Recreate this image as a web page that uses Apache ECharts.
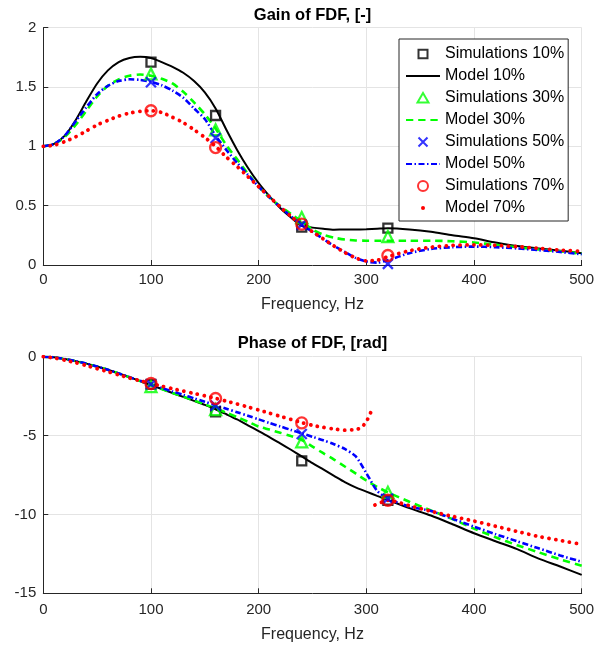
<!DOCTYPE html>
<html>
<head>
<meta charset="utf-8">
<script src="https://cdn.jsdelivr.net/npm/echarts@6/dist/echarts.min.js"></script>
<style>
html,body{margin:0;padding:0;background:#fff;}
#chart{width:603px;height:648px;}
</style>
</head>
<body>
<div id="chart"></div>
<script>
// ---------------- DATA ----------------
const freqModel = [0,10,20,30,40,50,60,70,80,90,100,110,120,130,140,150,160,170,180,190,200,210,220,230,240,250,260,270,280,290,300,310,320,340,360,380,400,420,440,460,480,500];

const gainModel10 = [1.00,1.02,1.09,1.22,1.38,1.53,1.64,1.71,1.745,1.755,1.745,1.71,1.67,1.62,1.55,1.455,1.32,1.14,0.97,0.82,0.69,0.58,0.48,0.40,0.33,0.315,0.305,0.298,0.30,0.30,0.302,0.306,0.31,0.30,0.28,0.25,0.225,0.19,0.16,0.14,0.12,0.10];
const gainModel30 = [1.00,1.02,1.08,1.18,1.30,1.42,1.51,1.565,1.595,1.605,1.595,1.57,1.53,1.46,1.37,1.27,1.15,1.01,0.89,0.77,0.66,0.57,0.495,0.43,0.365,0.30,0.255,0.23,0.215,0.207,0.205,0.205,0.205,0.205,0.205,0.20,0.19,0.17,0.15,0.13,0.115,0.095];
const gainModel50 = [1.00,1.02,1.09,1.21,1.33,1.44,1.51,1.55,1.565,1.56,1.545,1.515,1.47,1.41,1.32,1.23,1.09,0.97,0.86,0.76,0.66,0.57,0.49,0.41,0.34,0.28,0.22,0.16,0.11,0.06,0.03,0.02,0.04,0.10,0.135,0.15,0.155,0.15,0.14,0.125,0.11,0.09];
const gainModel70 = [1.00,1.01,1.04,1.08,1.13,1.18,1.22,1.255,1.28,1.295,1.30,1.285,1.245,1.20,1.14,1.075,1.00,0.91,0.83,0.745,0.66,0.575,0.49,0.41,0.34,0.28,0.22,0.16,0.105,0.06,0.035,0.04,0.07,0.12,0.15,0.165,0.17,0.165,0.155,0.14,0.125,0.115];

const phaseModel10 = [0,-0.04,-0.15,-0.28,-0.44,-0.62,-0.83,-1.06,-1.3,-1.55,-1.8,-2.05,-2.3,-2.55,-2.8,-3.05,-3.33,-3.65,-3.98,-4.35,-4.72,-5.1,-5.5,-5.9,-6.32,-6.75,-7.15,-7.55,-7.95,-8.28,-8.55,-8.82,-9.08,-9.6,-10.07,-10.62,-11.19,-11.7,-12.2,-12.8,-13.3,-13.83];
const phaseModel30 = [0,-0.04,-0.15,-0.28,-0.44,-0.62,-0.83,-1.06,-1.3,-1.55,-1.82,-2.05,-2.3,-2.53,-2.77,-3.02,-3.28,-3.55,-3.83,-4.12,-4.43,-4.62,-4.82,-5.03,-5.28,-5.7,-6.12,-6.52,-6.96,-7.4,-7.85,-8.25,-8.6,-9.2,-9.75,-10.3,-10.9,-11.45,-11.95,-12.4,-12.85,-13.25];
const phaseModel50 = [0,-0.04,-0.15,-0.28,-0.44,-0.62,-0.83,-1.06,-1.3,-1.53,-1.76,-1.98,-2.2,-2.42,-2.64,-2.86,-3.08,-3.3,-3.52,-3.74,-3.97,-4.2,-4.42,-4.64,-4.86,-5.08,-5.3,-5.55,-5.85,-6.31,-7.38,-8.5,-9.0,-9.5,-9.78,-10.27,-10.77,-11.25,-11.7,-12.15,-12.6,-13.0];

// 70% phase has a wrap (break) just after 305 Hz
const freqPhase70 = [0,10,20,30,40,50,60,70,80,90,100,110,120,130,140,150,160,170,180,190,200,210,220,230,240,250,260,270,280,290,295,300,305,306.5,308,315,320,340,360,380,400,420,440,460,480,500];
const phaseModel70 = [0,-0.08,-0.22,-0.38,-0.56,-0.76,-0.95,-1.15,-1.35,-1.53,-1.7,-1.87,-2.03,-2.18,-2.33,-2.48,-2.64,-2.82,-3.0,-3.19,-3.38,-3.58,-3.78,-3.98,-4.18,-4.35,-4.48,-4.58,-4.66,-4.62,-4.5,-4.12,-3.38,null,-9.4,-9.2,-9.1,-9.45,-9.8,-10.12,-10.42,-10.75,-11.08,-11.4,-11.65,-11.9];

const freqSim = [100,160,240,320];
const simGain10 = [1.71,1.26,0.32,0.31];
const simGain30 = [1.61,1.14,0.40,0.24];
const simGain50 = [1.54,1.07,0.34,0.01];
const simGain70 = [1.30,0.99,0.345,0.08];
const simPhase10 = [-1.75,-3.5,-6.6,-9.1];
const simPhase30 = [-1.9,-3.35,-5.4,-8.6];
const simPhase50 = [-1.75,-3.1,-4.9,-9.0];
const simPhase70 = [-1.7,-2.65,-4.2,-9.1];

const legendNames = ['Simulations 10%','Model 10%','Simulations 30%','Model 30%','Simulations 50%','Model 50%','Simulations 70%','Model 70%'];
const gainTicks = {min:0, max:2, interval:0.5};
const phaseTicks = {min:-15, max:0, interval:5};
const freqTicks = {min:0, max:500, interval:100};

// ---------------- STYLE ----------------
const FONT = "'Liberation Sans', Arial, Helvetica, sans-serif";
const AX = '#262626';
const GRID = '#e4e4e4';
const crossPath = 'path://M0,0L10,10M10,0L0,10';
// legend icons drawn inside a 34x10 box (leading M points fix the bounding box)
const BOX = 'path://M0,0M34,10';
const legendIcons = {
  'Simulations 10%': BOX + 'M12.5,0.8L21.5,0.8L21.5,9.2L12.5,9.2Z',
  'Simulations 30%': BOX + 'M17,0L22.5,9.5L11.5,9.5Z',
  'Simulations 50%': BOX + 'M12.5,0.5L21.5,9.5M21.5,0.5L12.5,9.5',
  'Simulations 70%': BOX + 'M11.8,5A5.2,5.2,0,1,1,22.2,5A5.2,5.2,0,1,1,11.8,5Z',
  'Model 70%': BOX + 'M15,5A2,2,0,1,1,19,5A2,2,0,1,1,15,5Z'
};

function pairs(xs, ys){ return xs.map((x,i)=>[x, ys[i]]); }

function simSeries(name, gi, ys, symbol, size, color){
  return {
    name, type:'scatter', xAxisIndex:gi, yAxisIndex:gi,
    data: pairs(freqSim, ys), symbol, symbolSize:size,
    itemStyle:{color:'rgba(0,0,0,0)', borderColor:color, borderWidth:2.3},
    emphasis:{disabled:true}, silent:true, z:3
  };
}
function modelSeries(name, gi, xs, ys, color, width, type, cap){
  return {
    name, type:'line', xAxisIndex:gi, yAxisIndex:gi,
    data: pairs(xs, ys), symbol:'none', showSymbol:false, smooth:0.25,
    connectNulls:false,
    lineStyle:{color, width, type, cap: cap || 'butt'},
    itemStyle:{color},
    emphasis:{disabled:true}, silent:true, z:3
  };
}

function xAxis(gi, labelMargin, nameGap){
  return {
    gridIndex:gi, type:'value', min:freqTicks.min, max:freqTicks.max, interval:freqTicks.interval,
    name:'Frequency, Hz', nameLocation:'middle', nameGap,
    nameTextStyle:{fontFamily:FONT, fontSize:16, color:AX},
    axisLine:{show:true, onZero:false, lineStyle:{color:AX, width:1}},
    axisTick:{show:true, inside:true, length:5, lineStyle:{color:AX}},
    axisLabel:{margin:labelMargin, fontFamily:FONT, fontSize:15, color:AX},
    splitLine:{show:true, lineStyle:{color:GRID, width:1}}
  };
}
function yAxis(gi, t){
  return {
    gridIndex:gi, type:'value', min:t.min, max:t.max, interval:t.interval,
    axisLine:{show:true, onZero:false, lineStyle:{color:AX, width:1}},
    axisTick:{show:true, inside:true, length:5, lineStyle:{color:AX}},
    axisLabel:{margin:7, fontFamily:FONT, fontSize:15, color:AX},
    splitLine:{show:true, lineStyle:{color:GRID, width:1}}
  };
}

const DASH = [7.3, 4.9];
const DASHDOT = [6, 2.5, 1.5, 2.5];
const DOT = [0.1, 6.8];

const series = [];
[
  {gi:0, m:[gainModel10,gainModel30,gainModel50], x70:freqModel, m70:gainModel70, s:[simGain10,simGain30,simGain50,simGain70]},
  {gi:1, m:[phaseModel10,phaseModel30,phaseModel50], x70:freqPhase70, m70:phaseModel70, s:[simPhase10,simPhase30,simPhase50,simPhase70]}
].forEach(p=>{
  series.push(simSeries(legendNames[0], p.gi, p.s[0], 'rect', 9, '#000000'));
  series.push(modelSeries(legendNames[1], p.gi, freqModel, p.m[0], '#000000', 2, 'solid'));
  series.push(simSeries(legendNames[2], p.gi, p.s[1], 'triangle', 11, '#00ff00'));
  series.push(modelSeries(legendNames[3], p.gi, freqModel, p.m[1], '#00ff00', 2.6, DASH));
  series.push(simSeries(legendNames[4], p.gi, p.s[2], crossPath, 10, '#0000ff'));
  series.push(modelSeries(legendNames[5], p.gi, freqModel, p.m[2], '#0000ff', 2.6, DASHDOT));
  series.push(simSeries(legendNames[6], p.gi, p.s[3], 'circle', 11, '#ff0000'));
  series.push(modelSeries(legendNames[7], p.gi, p.x70, p.m70, '#ff0000', 3.8, DOT, 'round'));
});

const chart = echarts.init(document.getElementById('chart'), null, {renderer:'canvas'});
chart.setOption({
  backgroundColor:'#ffffff',
  animation:false,
  title:[
    {text:'Gain of FDF, [-]', left:312.5, top:15, textAlign:'center', textVerticalAlign:'middle', padding:0,
     textStyle:{fontFamily:FONT, fontSize:16.5, fontWeight:'bold', color:'#000'}},
    {text:'Phase of FDF, [rad]', left:312.5, top:343, textAlign:'center', textVerticalAlign:'middle', padding:0,
     textStyle:{fontFamily:FONT, fontSize:16.5, fontWeight:'bold', color:'#000'}}
  ],
  grid:[
    {left:43.3, top:27.7, width:538.4, height:237.3, containLabel:false},
    {left:43.3, top:356.7, width:538.4, height:236.6, containLabel:false}
  ],
  xAxis:[xAxis(0, 7, 32), xAxis(1, 9, 33)],
  yAxis:[yAxis(0, gainTicks), yAxis(1, phaseTicks)],
  legend:{
    orient:'vertical', left:399, top:39,
    backgroundColor:'#ffffff', borderColor:AX, borderWidth:1, borderRadius:0,
    padding:[4,4,2,6], itemWidth:34, itemHeight:10, itemGap:0,
    selectedMode:false,
    textStyle:{fontFamily:FONT, fontSize:16, color:'#000', lineHeight:22},
    data: legendNames.map(n => legendIcons[n]
      ? {name:n, icon:legendIcons[n]}
      : {name:n, itemStyle:{opacity:0}})
  },
  series
});
</script>
</body>
</html>
